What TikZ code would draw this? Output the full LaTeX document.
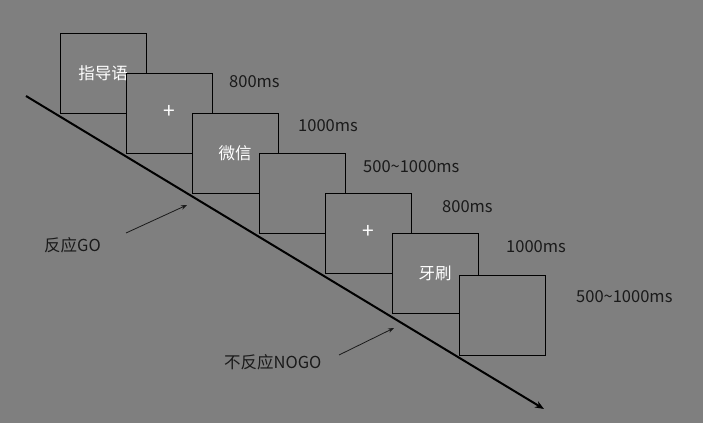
\documentclass[tikz,border=0pt]{standalone}
\usepackage{fontspec}
\setmainfont{Noto Sans CJK SC}
\usetikzlibrary{arrows.meta}
\definecolor{bg}{RGB}{127,127,127}
\definecolor{ink}{RGB}{26,26,26}
\begin{document}
\begin{tikzpicture}[x=1pt,y=-1pt,
  stim/.style={draw=black,fill=bg,line width=1pt,minimum width=86pt,minimum height=80pt,inner sep=0pt,anchor=north west},
  wtxt/.style={text=white,font=\fontsize{16.5}{19}\selectfont},
  plus/.style={text=white,font=\fontsize{21}{24}\selectfont},
  lbl/.style={text=ink,font=\fontsize{16.5}{19}\selectfont,anchor=west,inner sep=0pt},
  ptr/.style={draw=ink,line width=0.8pt,-{Stealth[length=6pt,width=4.5pt]}}]
\fill[bg] (0,0) rectangle (703,423);
\useasboundingbox (0,0) rectangle (703,423);
\node[stim] (b1) at (60,33) {};
\node[wtxt] at (103,73) {指导语};
\node[stim] (b2) at (126,73) {};
\node[plus] at (169,112) {+};
\node[stim] (b3) at (192,113) {};
\node[wtxt] at (235,153) {微信};
\node[stim] (b4) at (259,153) {};
\node[stim] (b5) at (325,193) {};
\node[plus] at (368,232) {+};
\node[stim] (b6) at (392,233) {};
\node[wtxt] at (435,273) {牙刷};
\node[stim] (b7) at (459,275) {};
\coordinate (ts) at (26,96);
\coordinate (te) at (544,409);
\draw[line width=2pt,-{Stealth[length=9pt,width=7pt]}] (ts) -- (te);
\node[lbl] (l1) at (229,82) {800ms};
\node[lbl] (l2) at (298,126) {1000ms};
\node[lbl] (l3) at (363,167) {500\textasciitilde1000ms};
\node[lbl] (l4) at (442,207) {800ms};
\node[lbl] (l5) at (506,247) {1000ms};
\node[lbl] (l6) at (576,297) {500\textasciitilde1000ms};
\node[lbl] (go) at (44,245) {反应GO};
\node[lbl] (nogo) at (224,362) {不反应NOGO};
\coordinate (ga) at (126,233);
\coordinate (gb) at (187,205);
\draw[ptr] (ga) -- (gb);
\coordinate (na) at (339,355);
\coordinate (nb) at (394,328);
\draw[ptr] (na) -- (nb);
\end{tikzpicture}
\end{document}
